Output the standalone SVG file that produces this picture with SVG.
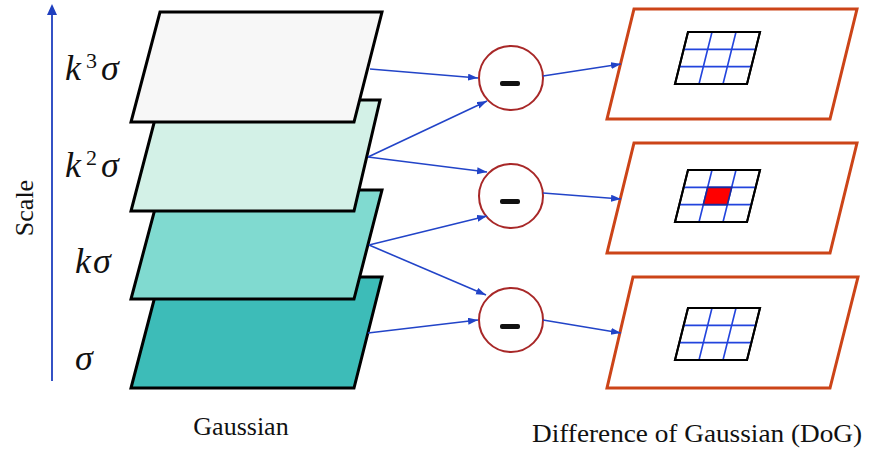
<svg xmlns="http://www.w3.org/2000/svg" width="869" height="449" viewBox="0 0 869 449">
<defs>
<style>
.layer{stroke:#000;stroke-width:3}
.dog{fill:#fff;stroke:#cc4418;stroke-width:3}
.op{fill:#fff;stroke:#a82828;stroke-width:2}
.conn{stroke:#2244c8;stroke-width:1.6;fill:none;marker-end:url(#ah)}
.gridout{fill:#fff;stroke:#000;stroke-width:2}
.gridin{stroke:#2244dd;stroke-width:1.6;fill:none}
.lbl{font-family:"Liberation Serif",serif;font-size:26px;fill:#111}
.math{font-family:"Liberation Serif",serif;font-style:italic;font-size:36px;fill:#111}
.sup{font-style:normal;font-size:22px}
.minus{fill:#111}
</style>
<marker id="ah" markerUnits="userSpaceOnUse" markerWidth="11" markerHeight="8" refX="10" refY="3.5" orient="auto">
<path d="M0,0 L10,3.5 L0,7 z" fill="#2244c8"/>
</marker>
<g id="grid">
<polygon class="gridout" points="13,0 85,0 72,52 0,52"/>
<path class="gridin" d="M8.67,17.33 H80.67 M4.33,34.67 H76.33 M37,0 L24,52 M61,0 L48,52"/>
<polygon points="13,0 85,0 72,52 0,52" fill="none" stroke="#000" stroke-width="2"/>
</g>
</defs>
<rect width="869" height="449" fill="#fff"/>

<g id="scale-axis">
<line x1="52" y1="381" x2="52" y2="14" stroke="#1f3fbf" stroke-width="1.8"/>
<polygon points="52,4 47,15 57,15" fill="#1f3fbf"/>
<text class="lbl" transform="translate(33,208) rotate(-90)" text-anchor="middle">Scale</text>
</g>

<g id="gaussian-sigma">
<polygon class="layer" fill="#3dbcb8" points="160,277 382,277 354,388 131,388"/>
<text class="math" x="75" y="370">σ</text>
</g>
<g id="gaussian-k-sigma">
<polygon class="layer" fill="#80dad0" points="160,190 382,190 354,299 131,299"/>
<text class="math" x="75" y="273">k<tspan x="93">σ</tspan></text>
</g>
<g id="gaussian-k2-sigma">
<polygon class="layer" fill="#d3f1e7" points="160,100 380,100 354,211 131,211"/>
<text class="math" x="65" y="177">k<tspan class="sup" x="86" y="165">2</tspan><tspan x="101" y="177">σ</tspan></text>
</g>
<g id="gaussian-k3-sigma">
<polygon class="layer" fill="#f7f7f7" points="160,12 382,12 354,122 131,122"/>
<text class="math" x="65" y="80">k<tspan class="sup" x="86" y="68">3</tspan><tspan x="101" y="80">σ</tspan></text>
</g>
<g id="gaussian-label"><text class="lbl" x="241" y="435" text-anchor="middle">Gaussian</text></g>

<g id="sub-1">
<circle class="op" cx="511" cy="78" r="32"/>
<rect class="minus" x="500" y="81" width="20" height="5" rx="2"/>
</g>
<g id="sub-2">
<circle class="op" cx="511" cy="196" r="32"/>
<rect class="minus" x="500" y="199" width="20" height="5" rx="2"/>
</g>
<g id="sub-3">
<circle class="op" cx="511" cy="320" r="32"/>
<rect class="minus" x="500" y="324" width="20" height="5" rx="2"/>
</g>

<g id="dog-1">
<polygon class="dog" points="634,9 857,9 830,119 607,119"/>
<use href="#grid" transform="translate(675,32)"/>
</g>
<g id="dog-2">
<polygon class="dog" points="634,143 857,143 830,253 607,253"/>
<use href="#grid" transform="translate(675,170)"/>
<polygon transform="translate(675,170)" points="32.67,17.33 56.67,17.33 52.33,34.67 28.33,34.67" fill="#ff0000" stroke="#1a2a9a" stroke-width="1.6"/>
</g>
<g id="dog-3">
<polygon class="dog" points="633,277 858,277 830,388 607,388"/>
<use href="#grid" transform="translate(675,308)"/>
</g>
<g id="dog-label"><text class="lbl" x="532" y="442" textLength="330" lengthAdjust="spacingAndGlyphs">Difference of Gaussian (DoG)</text></g>

<g id="connectors">
<line class="conn" x1="370" y1="69" x2="478" y2="78"/>
<line class="conn" x1="368" y1="157" x2="487" y2="101"/>
<line class="conn" x1="368" y1="157" x2="487" y2="172"/>
<line class="conn" x1="369" y1="245" x2="487" y2="216"/>
<line class="conn" x1="369" y1="245" x2="486" y2="295"/>
<line class="conn" x1="368" y1="333" x2="478" y2="320"/>
<line class="conn" x1="543" y1="76" x2="621" y2="64"/>
<line class="conn" x1="543" y1="193" x2="621" y2="199"/>
<line class="conn" x1="543" y1="320" x2="621" y2="333"/>
</g>
</svg>
